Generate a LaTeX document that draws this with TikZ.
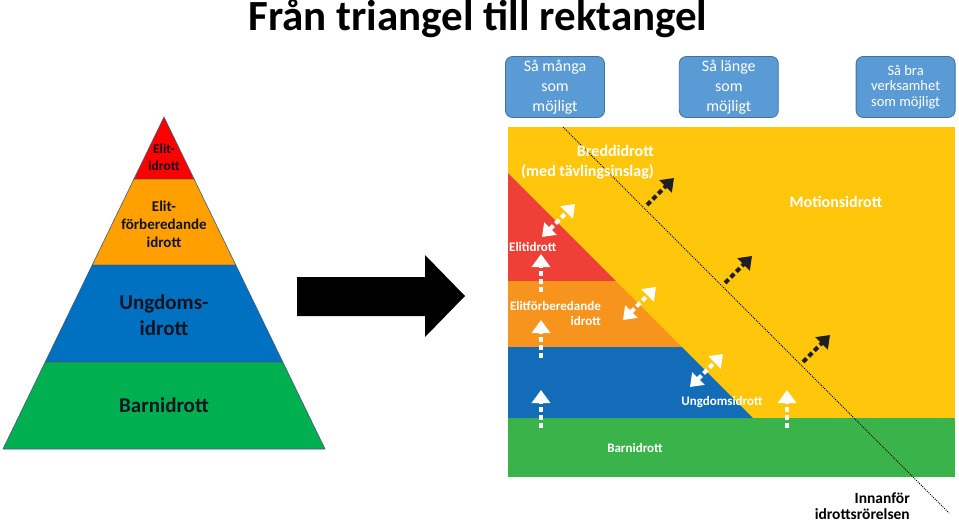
\documentclass[tikz,border=0pt]{standalone}
\usepackage{fontspec}
\setmainfont{Carlito}
\usetikzlibrary{arrows.meta, positioning, calc}

\definecolor{pyrred}{RGB}{255,0,0}
\definecolor{pyrorange}{RGB}{255,160,0}
\definecolor{pyrblue}{RGB}{0,112,192}
\definecolor{pyrgreen}{RGB}{0,176,80}
\definecolor{pyredge}{RGB}{65,90,125}
\definecolor{pyrtext}{RGB}{15,20,35}
\definecolor{recyellow}{RGB}{255,198,12}
\definecolor{recred}{RGB}{238,64,54}
\definecolor{recorange}{RGB}{247,148,30}
\definecolor{recblue}{RGB}{18,108,184}
\definecolor{recgreen}{RGB}{58,180,74}
\definecolor{boxblue}{RGB}{91,155,213}
\definecolor{boxedge}{RGB}{65,113,156}
\definecolor{pushblack}{RGB}{30,30,35}

\begin{document}
\begin{tikzpicture}[
			x=1pt, y=-1pt,
			every node/.style={align=center, inner sep=1pt},
			band/.style={draw=pyredge, line width=0.6pt},
			pyrlabel/.style={text=pyrtext, font=\bfseries},
			goal/.style={rectangle, rounded corners=7pt, draw=boxedge, line width=0.8pt, fill=boxblue, text=white, minimum width=99pt, minimum height=61pt},
			inlabel/.style={text=white, font=\bfseries\fontsize{13}{15}\selectfont},
			upflow/.style={white, line width=4pt, dash pattern=on 5pt off 3pt, -{Triangle[length=13pt, width=18pt]}},
			twoway/.style={white, line width=4pt, dash pattern=on 5pt off 3pt, {Triangle[length=12pt, width=17pt]}-{Triangle[length=12pt, width=17pt]}},
			push/.style={pushblack, line width=4pt, dash pattern=on 5pt off 3pt, -{Triangle[length=12pt, width=17pt]}},
			>=Stealth
			]
			\useasboundingbox (0,0) rectangle (959,523);
			
			% Title
			\node[font=\bfseries\fontsize{43}{50}\selectfont] (title) at (478,19) {Från triangel till rektangel};
			
			% Pyramid
			\coordinate (apex) at (164,117);
			\coordinate (bl) at (3,449);
			\coordinate (br) at (325,449);
			\foreach \n/\t in {a/0.187, b/0.446, c/0.738} {
				\coordinate (l\n) at ($(apex)!\t!(bl)$);
				\coordinate (r\n) at ($(apex)!\t!(br)$);
			}
			\fill[pyrred, band] (apex) -- (ra) -- (la) -- cycle;
			\fill[pyrorange, band] (la) -- (ra) -- (rb) -- (lb) -- cycle;
			\fill[pyrblue, band] (lb) -- (rb) -- (rc) -- (lc) -- cycle;
			\fill[pyrgreen, band] (lc) -- (rc) -- (br) -- (bl) -- cycle;
			
			\node[pyrlabel, font=\bfseries\fontsize{13.5}{17}\selectfont] (elit) at (164,157) {Elit-\\idrott};
			\node[pyrlabel, font=\bfseries\fontsize{15}{18}\selectfont] (elitforb) at (164,224) {Elit-\\förberedande\\idrott};
			\node[pyrlabel, font=\bfseries\fontsize{21}{26}\selectfont] (ungdom) at (164,315) {Ungdoms-\\idrott};
			\node[pyrlabel, font=\bfseries\fontsize{21}{26}\selectfont] (barn) at (164,405) {Barnidrott};
			
			% Big arrow
			\fill[black] (297,277) -- (425,277) -- (425,255) -- (465,296) -- (425,337) -- (425,316) -- (297,316) -- cycle;
			
			% Goals
			\node[goal, font=\fontsize{16}{20}\selectfont] (many) at (555,87) {Så många\\som\\möjligt};
			\node[goal, font=\fontsize{16}{20}\selectfont, right=74pt of many] (long) {Så länge\\som\\möjligt};
			\node[goal, font=\fontsize{14.5}{15.5}\selectfont, right=77pt of long] (good) {Så bra\\verksamhet\\som möjligt};
			
			% Rectangle
			\fill[recyellow] (508,127) rectangle (955,418);
			\fill[recgreen] (508,418) rectangle (955,477);
			\fill[recred] (508,173) -- (616,281) -- (508,281) -- cycle;
			\fill[recorange] (508,281) -- (616,281) -- (682,347) -- (508,347) -- cycle;
			\fill[recblue] (508,347) -- (682,347) -- (753,418) -- (508,418) -- cycle;
			
			\coordinate (edgetop) at (563,127);
			\coordinate (edgeend) at (949,513);
			\draw[black, line width=1pt, dash pattern=on 1pt off 1.2pt] (edgetop) -- (edgeend);
			
			% Labels
			\node[inlabel, font=\bfseries\fontsize{16}{20}\selectfont, align=right, anchor=east] (bredd) at (655,162) {Breddidrott\\(med tävlingsinslag)};
			\node[inlabel, anchor=west] (elitin) at (508,247) {Elitidrott};
			\node[inlabel, align=right, anchor=east] (elitforbin) at (602,313) {Elitförberedande\\idrott};
			\node[inlabel] (ungdomin) at (722,402) {Ungdomsidrott};
			\node[inlabel] (barnin) at (635,448) {Barnidrott};
			\node[inlabel, font=\bfseries\fontsize{16}{19}\selectfont] (motion) at (836,202) {Motionsidrott};
			\node[font=\bfseries\fontsize{15.5}{16.5}\selectfont, align=right, anchor=east] (inside) at (911,506) {Innanför\\idrottsrörelsen};
			
			% Arrows
			\foreach \i/\x/\y in {1/541/292, 2/541/358, 3/541/428, 4/787/428} {
				\coordinate (up\i from) at (\x,\y);
				\coordinate (up\i to) at (\x,\y-38);
				\draw[upflow] (up\i from) -- (up\i to);
			}
			\foreach \i/\x/\y in {1/542/237, 2/623/320, 3/690/387} {
				\coordinate (two\i from) at (\x,\y);
				\coordinate (two\i to) at (\x+33,\y-33);
				\draw[twoway] (two\i from) -- (two\i to);
			}
			\foreach \i/\x/\y in {1/647/205, 2/725/283, 3/803/362} {
				\coordinate (push\i from) at (\x,\y);
				\coordinate (push\i to) at (\x+27,\y-27);
				\draw[push] (push\i from) -- (push\i to);
			}
		\end{tikzpicture}
\end{document}
